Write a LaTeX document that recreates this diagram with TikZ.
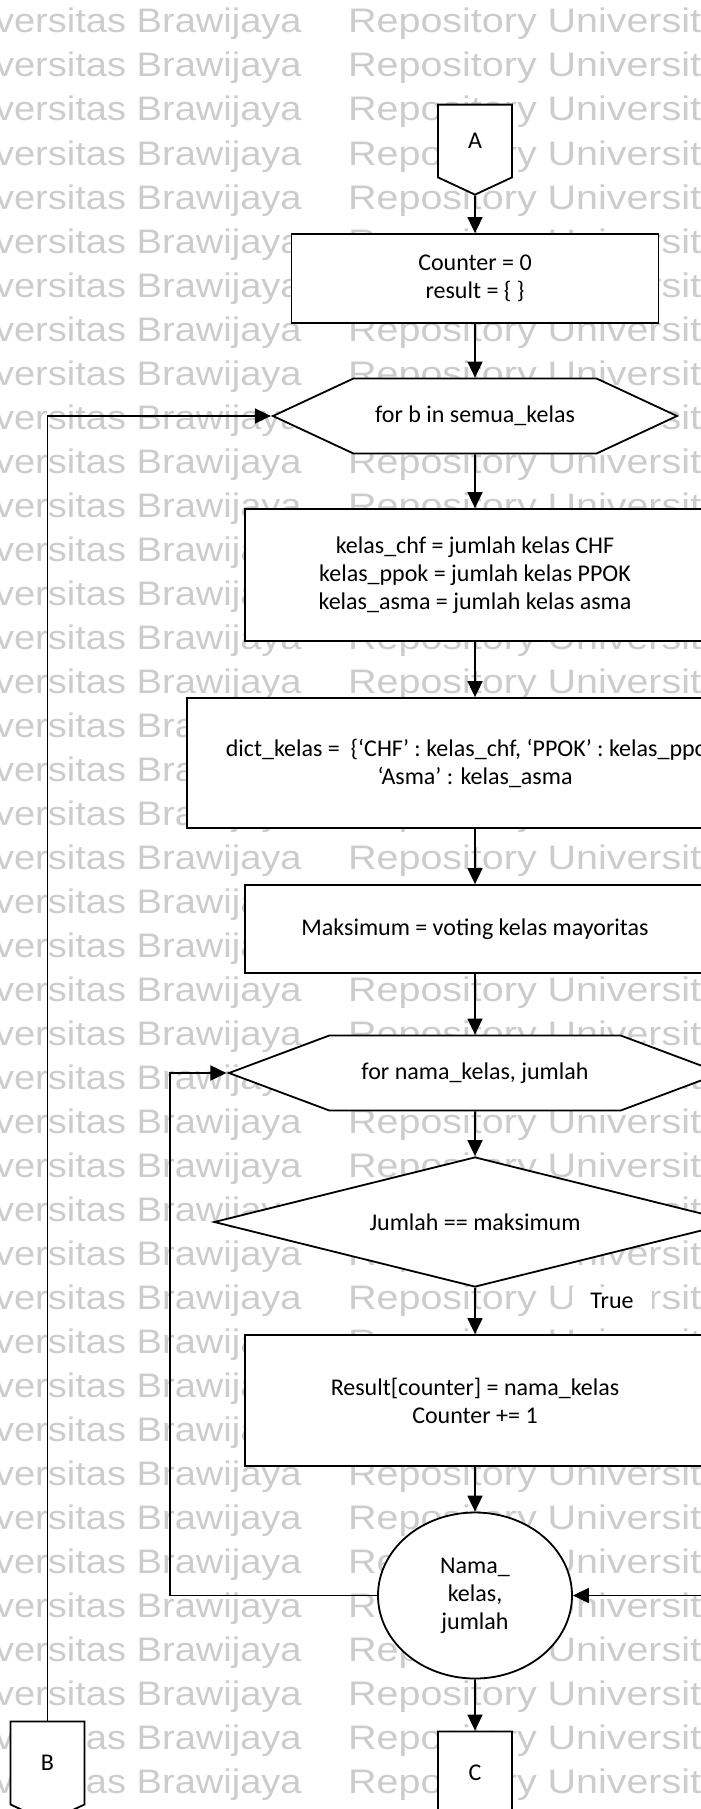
\documentclass[tikz,border=0pt]{standalone}
\usepackage{fontspec}
\setmainfont{Carlito}
\newfontfamily\wmfont{Liberation Sans}
\usetikzlibrary{arrows.meta,shapes.geometric,shapes.symbols}

\begin{document}
\begin{tikzpicture}[x=1pt,y=-1pt,font=\fontsize{24}{28}\selectfont,
	>={Triangle[length=16pt,width=15pt]},
	box/.style={draw,fill=white,line width=1.8pt,align=center,inner sep=0pt},
	proc/.style={box,rectangle},
	loopbox/.style={box,shape=signal,signal to=west and east,signal from=nowhere,minimum height=75pt},
	decision/.style={box,diamond,aspect=4},
	offpage/.style={box,shape=signal,signal to=south,signal from=nowhere,signal pointer angle=130,minimum width=74pt},
	joint/.style={box,ellipse},
	flow/.style={->,line width=1.8pt},
	wmtext/.style={font=\wmfont\fontsize{34}{34}\selectfont,text=black!20,inner sep=0pt,xscale=1.16}]
	\def\wm{Repository Universitas Brawijaya}
	\useasboundingbox (0,0) rectangle (701,1809);
	\clip (0,0) rectangle (701,1809);
	% watermark rows
	\foreach \k in {0,...,40}{
		\node[wmtext,xscale=0.965,anchor=base east] (wl\k) at (302,{33+44*\k}) {\wm};
		\node[wmtext,anchor=base west] (wr\k) at (348,{33+44*\k}) {\wm};
	}
	% main column
	\node[offpage,minimum height=76pt] (conA) at (475,141) {A};
	\node[proc,minimum width=367pt,minimum height=89pt] (init) at (475,278.5) {Counter = 0\\result = \{ \}};
	\node[loopbox,minimum width=404pt,signal pointer angle=50] (forb) at (475,416) {for b in semua\_kelas};
	\node[proc,minimum width=460pt,minimum height=132pt] (count) at (475,575) {kelas\_chf = jumlah kelas CHF\\kelas\_ppok = jumlah kelas PPOK\\kelas\_asma = jumlah kelas asma};
	\node[proc,minimum width=576pt,minimum height=130pt] (dict) at (475,763) {dict\_kelas = \ \{‘CHF’ : kelas\_chf, ‘PPOK’ : kelas\_ppok,\\‘Asma’ : kelas\_asma};
	\node[proc,minimum width=460pt,minimum height=88pt] (vote) at (475,929) {Maksimum = voting kelas mayoritas};
	\node[loopbox,minimum width=492pt,signal pointer angle=41] (fornk) at (475,1073) {for nama\_kelas, jumlah};
	\node[decision,minimum width=522pt,minimum height=130pt] (cek) at (475,1222) {Jumlah == maksimum};
	\node[proc,minimum width=460pt,minimum height=131pt] (simpan) at (475,1400.5) {Result[counter] = nama\_kelas\\Counter += 1};
	\node[joint,minimum width=194pt,minimum height=166pt] (iter) at (475,1595.5) {Nama\_\\kelas,\\jumlah};
	\node[offpage,minimum height=86pt] (conB) at (47.5,1763) {B};
	\node[offpage,minimum height=86pt] (conC) at (475,1773) {C};
	% arrows
	\draw[flow] (conA) -- (init);
	\draw[flow] (init) -- (forb);
	\draw[flow] (forb) -- (count);
	\draw[flow] (count) -- (dict);
	\draw[flow] (dict) -- (vote);
	\draw[flow] (vote) -- (fornk);
	\draw[flow] (fornk) -- (cek);
	\draw[flow] (cek) -- (simpan);
	\node[fill=white,inner xsep=18pt,inner ysep=6pt] (yes) at (612,1301) {True};
	\draw[flow] (simpan) -- (iter);
	\draw[flow] (iter) -- (conC);
	\draw[flow] (iter.west) -- ++(-207,0) |- (fornk.west);
	\draw[flow] (cek.east) -- ++(40,0) |- (iter.east);
	\draw[flow] (conB.north) |- (forb.west);
\end{tikzpicture}
\end{document}
